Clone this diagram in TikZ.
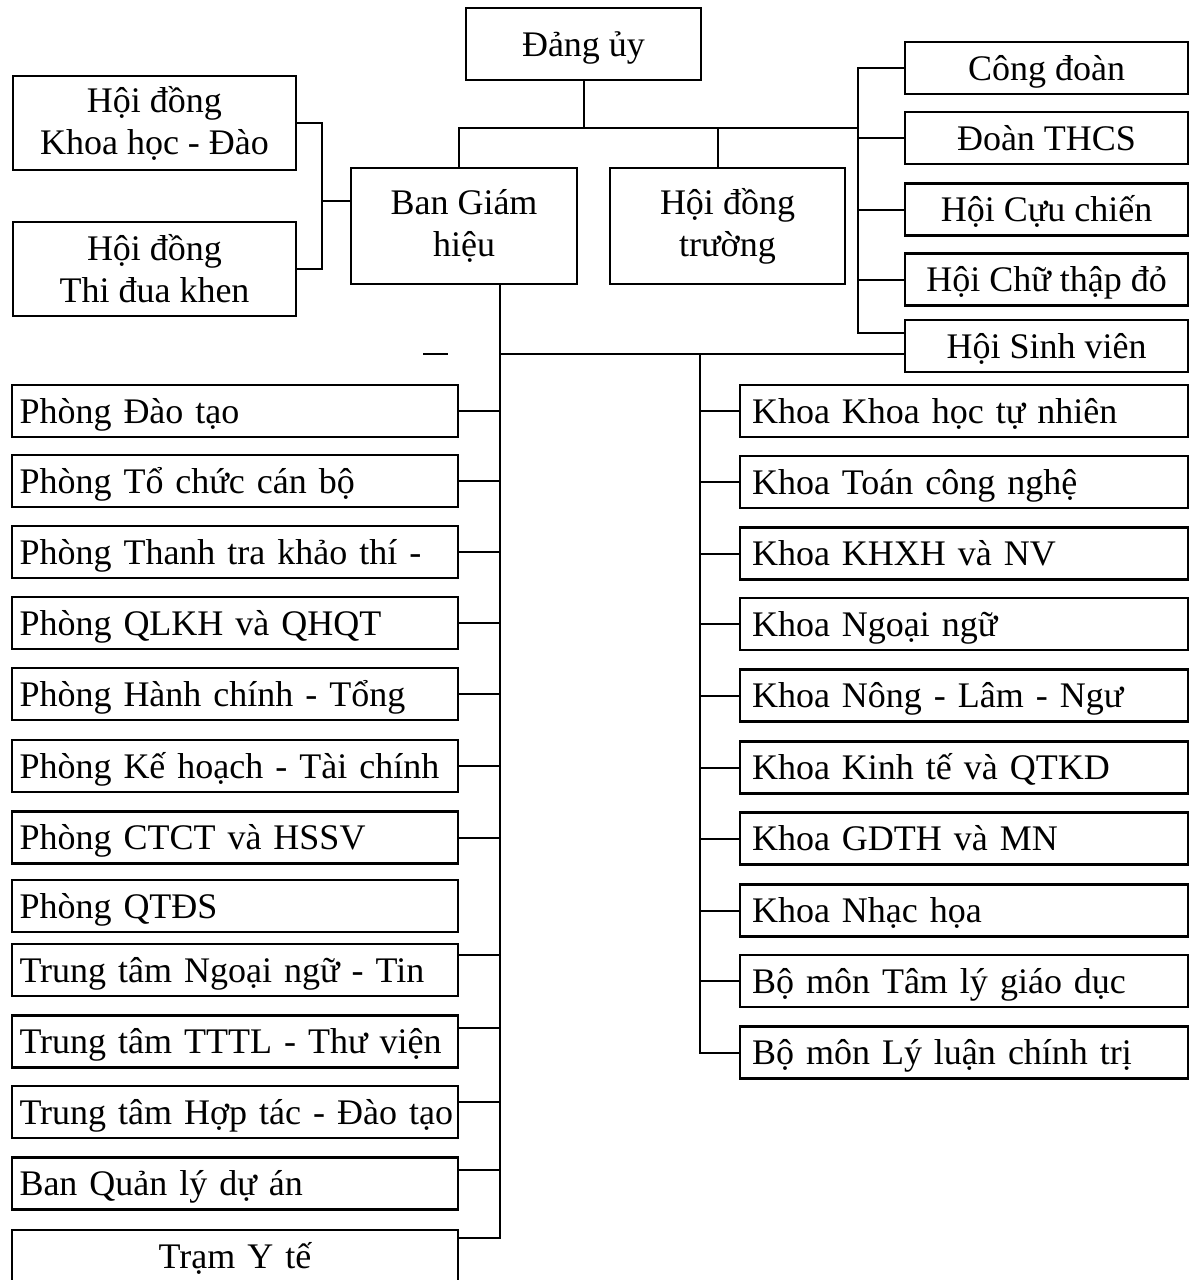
\documentclass[tikz,border=0pt]{standalone}
\usepackage{fontspec}
\setmainfont{Liberation Serif}
\tikzset{
  unit/.style={draw, line width=1.4pt, inner sep=0pt, font=\fontsize{18}{21}\selectfont, align=center},
  lunit/.style={unit, minimum width=223pt, minimum height=26pt, text width=215.5pt, align=left, text height=12pt, text depth=0pt},
  runit/.style={unit, minimum width=224pt, minimum height=26pt, text width=212pt, align=left, text height=12pt, text depth=0pt},
  tunit/.style={unit, minimum width=141.5pt, minimum height=26pt, text height=12pt, text depth=0pt},
  link/.style={line width=1pt},
}
\begin{document}
\begin{tikzpicture}[x=0.5pt, y=-0.5pt]
        \useasboundingbox (0,0) rectangle (1197,1280);
        \node[unit, minimum width=117.5pt, minimum height=36pt, text height=12pt, text depth=0pt] (dang) at (583.5,44) {Đảng ủy};
        \node[unit, minimum width=141.5pt, minimum height=47pt] (hdkh) at (154.5,123) {Hội đồng\\Khoa học - Đào};
        \node[unit, minimum width=141.5pt, minimum height=47pt] (hdtd) at (154.5,269) {Hội đồng\\Thi đua khen};
        \node[unit, minimum width=113pt, minimum height=58pt] (bgh) at (464,226) {Ban Giám\\hiệu};
        \node[unit, minimum width=117.5pt, minimum height=58pt] (hdt) at (727.5,226) {Hội đồng\\trường};
        \foreach \n/\y/\t in {t1/68/Công đoàn, t2/138/Đoàn THCS, t3/209.5/Hội Cựu chiến, t4/279.5/Hội Chữ thập đỏ, t5/346/Hội Sinh viên}
          \node[tunit] (\n) at (1046.5,\y) {\t};
        \foreach \n/\y/\t in {l1/411/Phòng Đào tạo, l2/481/Phòng Tổ chức cán bộ, l3/552/Phòng Thanh tra khảo thí -, l4/623/Phòng QLKH và QHQT, l5/694/Phòng Hành chính - Tổng, l6/766/Phòng Kế hoạch - Tài chính, l7/837.5/Phòng CTCT và HSSV, l8/906/Phòng QTĐS, l9/970/Trung tâm Ngoại ngữ - Tin, l10/1041.5/Trung tâm TTTL - Thư viện, l11/1112/Trung tâm Hợp tác - Đào tạo, l12/1183.5/Ban Quản lý dự án}
          \node[lunit] (\n) at (235,\y) {\mbox{\t}};
        \node[lunit, align=center] (l13) at (235,1256) {Trạm Y tế};
        \foreach \n/\y/\t in {r1/411/Khoa Khoa học tự nhiên, r2/482/Khoa Toán công nghệ, r3/553.5/Khoa KHXH và NV, r4/624/Khoa Ngoại ngữ, r5/695.5/Khoa Nông - Lâm - Ngư, r6/767.5/Khoa Kinh tế và QTKD, r7/838.5/Khoa GDTH và MN, r8/910.5/Khoa Nhạc họa, r9/981/Bộ môn Tâm lý giáo dục, r10/1052.5/Bộ môn Lý luận chính trị}
          \node[runit] (\n) at (964,\y) {\mbox{\t}};
        \coordinate (busL) at (459,128);
        \coordinate (busR) at (859,128);
        \coordinate (brk) at (322,201);
        \coordinate (cross) at (500,354);
        \coordinate (mainb) at (500,1238);
        \coordinate (rtop) at (700,354);
        \draw[link] (busL) -- (busR);
        \draw[link] (dang.south) -- ++(0,-24pt);
        \draw[link] ([xshift=-2.5pt]bgh.north) -- ++(0,20pt);
        \draw[link] ([xshift=-4.75pt]hdt.north) -- ++(0,20pt);
        \draw[link] (t1.west) -- ++(-23pt,0) |- ([yshift=6.5pt]t5.west);
        \foreach \i in {2,3,4}
          \draw[link] (t\i.west) -- ++(-23pt,0);
        \draw[link] (hdkh.east) -| (brk) |- (hdtd.east);
        \draw[link] (brk) -- (brk -| bgh.west);
        \draw[link] (bgh.south -| mainb) -- (mainb);
        \draw[link] (cross) -- ([yshift=-4pt]t5.west);
        \draw[line width=1.2pt] (423,354) -- (448,354);
        \foreach \n/\s in {l1/0, l2/0, l3/0, l4/0, l5/0, l6/0, l7/0, l9/7.5, l10/6.75, l11/5, l12/6.75, l13/9}
          \draw[link] ([yshift=\s pt]\n.east) -- ++(21pt,0);
        \draw[link] (rtop) |- (r10.west);
        \foreach \i in {1,...,9}
          \draw[link] (r\i.west) -- ++(-20pt,0);
\end{tikzpicture}
\end{document}
